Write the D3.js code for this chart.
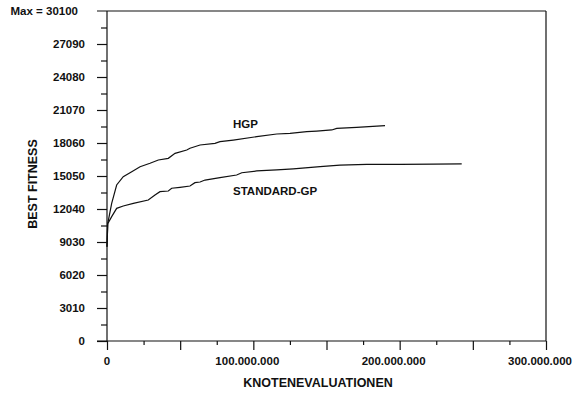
<!DOCTYPE html>
<html>
<head>
<meta charset="utf-8">
<script src="https://cdn.jsdelivr.net/npm/d3@7"></script>
<style>
  body { margin: 0; background: #fff; }
  text { font-family: "Liberation Sans", Arial, sans-serif; font-weight: bold; fill: #111; }
</style>
</head>
<body>
<div id="chart"></div>
<script>
// x in millions of node evaluations, y = best fitness
const hgpX = [0, 0.5, 3.2, 6.6, 11.1, 16.9, 22.6, 29.4, 35.1, 41.9, 46.5, 54.5, 56.7, 63.6, 73.8, 77.2, 86.3, 102.3, 116.0, 125.1, 136.5, 143.3, 153.6, 157.0, 170.6, 190.0]
const hgpY = [8600, 10700, 12560, 14230, 14990, 15440, 15900, 16210, 16510, 16660, 17120, 17420, 17580, 17880, 18030, 18180, 18330, 18640, 18880, 18940, 19090, 19150, 19250, 19400, 19490, 19640]
const stdX = [0, 0.5, 3.2, 6.6, 11.1, 18.0, 28.2, 32.8, 36.2, 41.9, 44.2, 49.9, 56.7, 60.1, 63.6, 67.0, 77.2, 88.6, 92.1, 102.3, 116.0, 127.3, 145.6, 159.2, 177.5, 200.2, 223.0, 242.4]
const stdY = [8600, 10700, 11340, 12100, 12310, 12560, 12860, 13320, 13620, 13680, 13930, 14020, 14140, 14440, 14500, 14680, 14900, 15140, 15350, 15510, 15600, 15700, 15900, 16050, 16110, 16110, 16140, 16150]
const yTicks = [0, 3010, 6020, 9030, 12040, 15050, 18060, 21070, 24080, 27090]
const yMax = 30100
const xTicks = [0, 100, 200, 300]
const seriesLabels = ['HGP', 'STANDARD-GP']

let margin = {top: 11, right: 28, bottom: 55, left: 107}
let W = 574, H = 396
let pxX = W - margin.left - margin.right,
    pxY = H - margin.top - margin.bottom

let svg = d3.select('#chart').append('svg')
    .attr('width', W).attr('height', H)
let g = svg.append('g')
    .attr('transform', `translate(${margin.left},${margin.top})`)

let scX = d3.scaleLinear().domain([0, 300]).range([0, pxX])
let scY = d3.scaleLinear().domain([0, yMax]).range([pxY, 0])

// frame: top and right lines
g.append('line').attr('x1', -10).attr('x2', pxX).attr('y1', 0).attr('y2', 0)
    .attr('stroke', '#111').attr('stroke-width', 1.2)
g.append('line').attr('x1', pxX).attr('x2', pxX).attr('y1', 0).attr('y2', pxY)
    .attr('stroke', '#111').attr('stroke-width', 1.2)

// y axis, major ticks with labels
let yAxis = d3.axisLeft(scY).tickValues(yTicks).tickSize(10).tickPadding(12)
    .tickFormat(d3.format('d'))
let ya = g.append('g').call(yAxis)
ya.select('.domain').attr('d', `M0,0V${pxY}`)
// minor y ticks
let yMinor = d3.range(1505, yMax, 3010)
g.append('g').call(d3.axisLeft(scY).tickValues(yMinor).tickSize(6).tickFormat(''))
    .select('.domain').remove()

// max label
g.append('text').attr('x', -29).attr('y', 4).attr('text-anchor', 'end')
    .style('font-size', '11.5px').text('Max = ' + yMax)

// x axis
let xAxis = d3.axisBottom(scX).tickValues(d3.range(0, 301, 50)).tickSize(9).tickFormat('')
let xa = g.append('g').attr('transform', `translate(0,${pxY})`).call(xAxis)
xa.select('.domain').attr('d', `M-10,0H${pxX}`)
g.append('g').attr('transform', `translate(0,${pxY})`)
    .call(d3.axisBottom(scX).tickValues(d3.range(25, 300, 50)).tickSize(4).tickFormat(''))
    .select('.domain').remove()
g.selectAll('.tick line, .domain').attr('stroke', '#111').attr('stroke-width', 1.2)

let fmtX = d => d === 0 ? '0' : d3.format(',')(d * 1e6).replace(/,/g, '.')
g.selectAll('.xlab').data(xTicks).enter().append('text')
    .attr('class', 'xlab')
    .attr('x', d => scX(d) - (d === 0 ? 0 : 6))
    .attr('y', pxY + 24)
    .attr('text-anchor', 'middle')
    .style('font-size', '11.5px')
    .text(fmtX)

ya.selectAll('text').style('font-size', '11.5px').style('font-family', null).attr('fill', '#111')

// axis titles
g.append('text').attr('x', 211).attr('y', pxY + 46).attr('text-anchor', 'middle')
    .style('font-size', '12.5px').text('KNOTENEVALUATIONEN')
g.append('text').attr('transform', `translate(${-70},${173}) rotate(-90)`)
    .attr('text-anchor', 'middle').style('font-size', '12.5px').text('BEST FITNESS')

// curves
let makeLine = d3.line().x(d => scX(d[0])).y(d => scY(d[1]))
let series = [d3.zip(hgpX, hgpY), d3.zip(stdX, stdY)]
series.forEach(s => {
    g.append('path').attr('d', makeLine(s))
        .attr('fill', 'none').attr('stroke', '#111').attr('stroke-width', 1.2)
})

// series labels
g.append('text').attr('x', 126).attr('y', 117).style('font-size', '11.5px').text(seriesLabels[0])
g.append('text').attr('x', 126).attr('y', 184).style('font-size', '11.5px').text(seriesLabels[1])
</script>
</body>
</html>
